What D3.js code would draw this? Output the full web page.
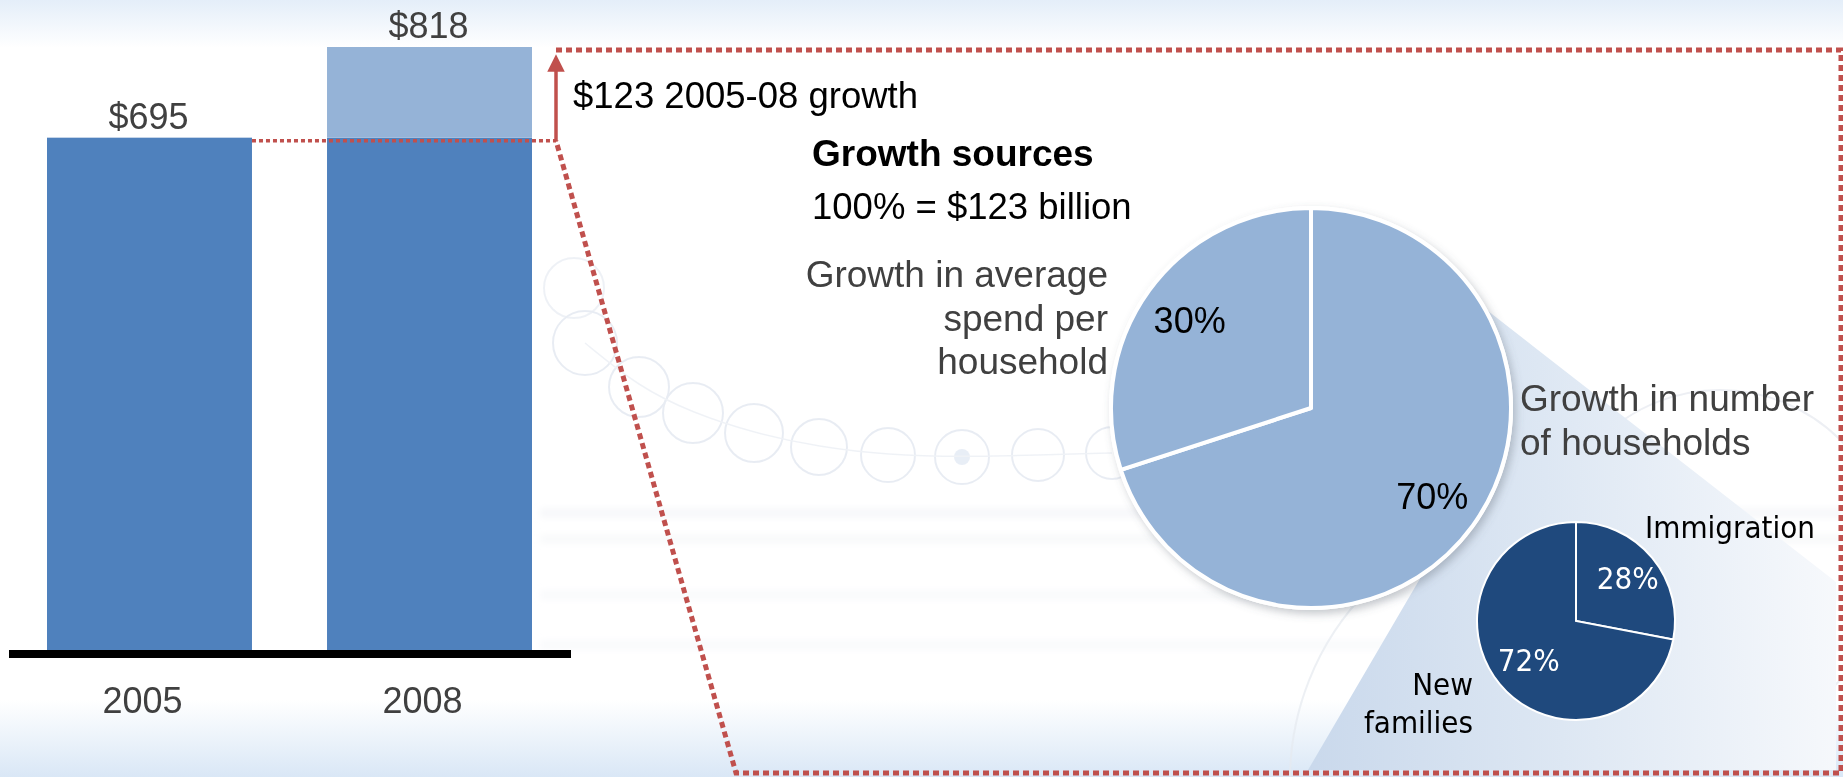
<!DOCTYPE html>
<html>
<head>
<meta charset="utf-8">
<script src="https://cdn.jsdelivr.net/npm/d3@7"></script>
<style>
  html, body { margin: 0; padding: 0; background: #fff; }
  svg { display: block; }
  text { font-family: "Liberation Sans", Arial, sans-serif; }
  .cond { font-family: "DejaVu Sans", sans-serif; }
</style>
</head>
<body>
<svg id="chart" width="1843" height="777"></svg>
<script>
// Spending totals by year ($ billion)
const years = ["2005", "2008"];
const totals = [695, 818];

// Breakdown of the 2005-08 growth
const growthSources = ["Growth in number of households", "Growth in average spend per household"];
const growthShares = [70, 30];

// Breakdown of household-number growth
const householdSources = ["Immigration", "New families"];
const householdShares = [28, 72];

const W = 1843, H = 777;
const svg = d3.select("#chart");
const defs = svg.append("defs");

const RED = "#C0504D";
const DARK = "#4F81BD";
const LIGHT = "#95B3D7";
const NAVY = "#1F497D";
const GREY = "#404040";

// ---------- background ----------
const bgTop = defs.append("linearGradient").attr("id", "bgTop").attr("x1", 0).attr("y1", 0).attr("x2", 0).attr("y2", 1);
bgTop.append("stop").attr("offset", 0).attr("stop-color", "#e4eef9");
bgTop.append("stop").attr("offset", 1).attr("stop-color", "#ffffff");
const bgBot = defs.append("linearGradient").attr("id", "bgBot").attr("x1", 0).attr("y1", 0).attr("x2", 0).attr("y2", 1);
bgBot.append("stop").attr("offset", 0).attr("stop-color", "#ffffff");
bgBot.append("stop").attr("offset", 1).attr("stop-color", "#d9e7f6");

svg.append("rect").attr("width", W).attr("height", H).attr("fill", "#ffffff");
svg.append("rect").attr("width", W).attr("height", 48).attr("fill", "url(#bgTop)");
svg.append("rect").attr("y", 700).attr("width", W).attr("height", 77).attr("fill", "url(#bgBot)");

// soft horizontal streaks
const soft = defs.append("filter").attr("id", "soft").attr("x", "-5%").attr("y", "-100%").attr("width", "110%").attr("height", "300%");
soft.append("feGaussianBlur").attr("stdDeviation", 3);
const streaks = [[540, 1843, 508, 0.35], [540, 1843, 534, 0.28], [540, 1843, 590, 0.25], [540, 1843, 640, 0.25]];
svg.append("g").attr("filter", "url(#soft)").selectAll("rect").data(streaks).join("rect")
  .attr("x", d => d[0]).attr("width", d => d[1] - d[0])
  .attr("y", d => d[2]).attr("height", 10)
  .attr("fill", "#e8ecf2").attr("opacity", d => d[3]);

// faint decorative ring chain
const rings = [[585, 343, 32], [639, 387, 30], [693, 413, 30], [754, 433, 29], [819, 447, 28], [888, 455, 27], [962, 457, 27], [1038, 455, 26], [1112, 453, 26]];
const ringG = svg.append("g").attr("opacity", 0.5);
ringG.append("circle").attr("cx", 574).attr("cy", 288).attr("r", 30)
  .attr("fill", "none").attr("stroke", "#dfe5ee").attr("stroke-width", 2);
ringG.selectAll("circle.ring").data(rings).join("circle")
  .attr("class", "ring")
  .attr("cx", d => d[0]).attr("cy", d => d[1]).attr("r", d => d[2])
  .attr("fill", "none").attr("stroke", "#d3dbe8").attr("stroke-width", 2);
ringG.append("circle").attr("cx", 962).attr("cy", 457).attr("r", 8).attr("fill", "#d3deee");
ringG.append("path")
  .attr("d", d3.line().curve(d3.curveBasis)(rings.map(d => [d[0], d[1]])))
  .attr("fill", "none").attr("stroke", "#e1e6ef").attr("stroke-width", 1.5);

// faint large arcs
const arcG = svg.append("g").attr("fill", "none").attr("stroke", "#e6e9ef").attr("stroke-width", 2).attr("opacity", 0.7);
arcG.append("circle").attr("cx", 1720).attr("cy", 560).attr("r", 170);
arcG.append("circle").attr("cx", 1560).attr("cy", 780).attr("r", 270);

// ---------- bar chart ----------
const baseY = 650;
const x = d3.scaleBand().domain(years).range([47, 532]).paddingInner(0.268).paddingOuter(0);
const y = d3.scaleLinear().domain([0, d3.max(totals)]).range([baseY, 47]);

const barG = svg.append("g");
// base segment (first-year level) for every bar
barG.selectAll("rect.base").data(years).join("rect")
  .attr("class", "base")
  .attr("x", d => x(d)).attr("width", x.bandwidth())
  .attr("y", (d, i) => y(Math.min(totals[i], totals[0])))
  .attr("height", (d, i) => baseY - y(Math.min(totals[i], totals[0])))
  .attr("fill", DARK);
// growth segment above the first-year level
barG.selectAll("rect.growth").data(years.slice(1)).join("rect")
  .attr("class", "growth")
  .attr("x", d => x(d)).attr("width", x.bandwidth())
  .attr("y", (d, i) => y(totals[i + 1]))
  .attr("height", (d, i) => y(totals[0]) - y(totals[i + 1]))
  .attr("fill", LIGHT);

// value labels
barG.selectAll("text.val").data(years).join("text")
  .attr("class", "val")
  .attr("x", d => x(d) + x.bandwidth() / 2 - 1)
  .attr("y", (d, i) => y(totals[i]) - 9)
  .attr("text-anchor", "middle").attr("font-size", 36).attr("fill", GREY)
  .text((d, i) => "$" + totals[i]);

// baseline
svg.append("line").attr("x1", 9).attr("x2", 571).attr("y1", baseY + 4).attr("y2", baseY + 4)
  .attr("stroke", "#000").attr("stroke-width", 8);

// year labels
svg.append("g").selectAll("text").data(years).join("text")
  .attr("x", d => x(d) + x.bandwidth() / 2 - 7)
  .attr("y", 713)
  .attr("text-anchor", "middle").attr("font-size", 36).attr("fill", GREY)
  .text(d => d);

// ---------- growth connector and callout box ----------
const arrowX = 556;
const levelY = y(totals[0]) + 3;
const boxTop = 50, boxBottom = 773, boxRight = 1841, slantBottomX = 736;

svg.append("line")
  .attr("x1", x(years[0]) + x.bandwidth()).attr("x2", arrowX)
  .attr("y1", levelY).attr("y2", levelY)
  .attr("stroke", RED).attr("stroke-width", 3.5).attr("stroke-dasharray", "4 3");

const box = d3.path();
box.moveTo(arrowX, boxTop);
box.lineTo(boxRight, boxTop);
box.lineTo(boxRight, boxBottom);
box.lineTo(slantBottomX, boxBottom);
box.lineTo(arrowX, levelY);

// zoom funnel from the big pie towards the small pie (drawn under the pies)
const bigC = [1311, 408], bigR = 200;
const smallC = [1576, 621], smallR = 99;
const funnelGrad = defs.append("linearGradient").attr("id", "funnel")
  .attr("gradientUnits", "userSpaceOnUse")
  .attr("x1", 1200).attr("y1", 600).attr("x2", 1840).attr("y2", 560);
funnelGrad.append("stop").attr("offset", 0).attr("stop-color", "#c2d3e9");
funnelGrad.append("stop").attr("offset", 0.55).attr("stop-color", "#dde7f3");
funnelGrad.append("stop").attr("offset", 1).attr("stop-color", "#f7f9fc");
const onBig = deg => [bigC[0] + bigR * Math.sin(deg * Math.PI / 180), bigC[1] - bigR * Math.cos(deg * Math.PI / 180)];
const funnelPts = [
  onBig(60),
  [boxRight - 5, 582],
  [boxRight - 5, boxBottom - 3],
  [1308, boxBottom - 3],
  onBig(146),
  bigC
];
svg.append("path").attr("d", d3.line()(funnelPts) + "Z").attr("fill", "url(#funnel)");

svg.append("path").attr("d", box.toString())
  .attr("fill", "none").attr("stroke", RED).attr("stroke-width", 5).attr("stroke-dasharray", "6 4");

// growth arrow
defs.append("marker").attr("id", "head").attr("viewBox", "0 0 10 10")
  .attr("refX", 5).attr("refY", 5).attr("markerWidth", 5).attr("markerHeight", 6)
  .attr("orient", "auto")
  .append("path").attr("d", "M0,0 L10,5 L0,10 Z").attr("fill", RED);
svg.append("line").attr("x1", arrowX).attr("x2", arrowX)
  .attr("y1", levelY + 1).attr("y2", boxTop + 13)
  .attr("stroke", RED).attr("stroke-width", 3.5).attr("marker-end", "url(#head)");

svg.append("text").attr("x", 573).attr("y", 108).attr("font-size", 36.5).attr("fill", "#000")
  .text("$" + (totals[1] - totals[0]) + " 2005-08 growth");

svg.append("text").attr("x", 812).attr("y", 166).attr("font-size", 37).attr("font-weight", "bold").attr("fill", "#000")
  .text("Growth sources");
svg.append("text").attr("x", 812).attr("y", 219).attr("font-size", 36.5).attr("fill", "#000")
  .text("100% = $" + (totals[1] - totals[0]) + " billion");

// ---------- big pie: sources of growth ----------
const shadow = defs.append("filter").attr("id", "shadow").attr("x", "-20%").attr("y", "-20%").attr("width", "140%").attr("height", "140%");
shadow.append("feDropShadow").attr("dx", 3).attr("dy", 4).attr("stdDeviation", 4)
  .attr("flood-color", "#5a6470").attr("flood-opacity", 0.35);

const pie = d3.pie().sort(null).value(d => d.v);
const bigData = pie(growthSources.map((s, i) => ({ name: s, v: growthShares[i] })));
const bigArc = d3.arc().innerRadius(0).outerRadius(bigR);
const bigLabelArc = d3.arc().innerRadius(bigR * 0.75).outerRadius(bigR * 0.75);

const bigG = svg.append("g").attr("transform", `translate(${bigC[0]},${bigC[1]})`);
bigG.append("circle").attr("r", bigR + 2).attr("fill", "#fff").attr("filter", "url(#shadow)");
bigG.selectAll("path").data(bigData).join("path")
  .attr("d", bigArc).attr("fill", LIGHT)
  .attr("stroke", "#fff").attr("stroke-width", 4).attr("stroke-linejoin", "round");
bigG.selectAll("text").data(bigData).join("text")
  .attr("transform", d => { const c = bigLabelArc.centroid(d); return `translate(${c[0]},${c[1] + 13})`; })
  .attr("text-anchor", "middle").attr("font-size", 36).attr("fill", "#000")
  .text(d => d.data.v + "%");

// labels for the big pie
const leftLines = ["Growth in average", "spend per", "household"];
svg.append("g").selectAll("text").data(leftLines).join("text")
  .attr("x", 1108).attr("y", (d, i) => 287 + i * 43.5)
  .attr("text-anchor", "end").attr("font-size", 37).attr("fill", GREY)
  .text(d => d);
const rightLines = ["Growth in number", "of households"];
svg.append("g").selectAll("text").data(rightLines).join("text")
  .attr("x", 1520).attr("y", (d, i) => 411 + i * 43.5)
  .attr("font-size", 37).attr("fill", GREY)
  .text(d => d);

// ---------- small pie: sources of household growth ----------
const SX = 0.9; // horizontal squeeze for the narrow label face
const smallData = pie(householdSources.map((s, i) => ({ name: s, v: householdShares[i] })));
const smallArc = d3.arc().innerRadius(0).outerRadius(smallR);
const smallG = svg.append("g").attr("transform", `translate(${smallC[0]},${smallC[1]})`);
smallG.selectAll("path").data(smallData).join("path")
  .attr("d", smallArc).attr("fill", NAVY)
  .attr("stroke", "#fff").attr("stroke-width", 2);
const smallLabelR = [0.68, 0.62];
smallG.selectAll("text").data(smallData).join("text")
  .attr("class", "cond")
  .attr("transform", (d, i) => {
    const r = smallR * smallLabelR[i];
    const c = d3.arc().innerRadius(r).outerRadius(r).centroid(d);
    return `translate(${c[0]},${c[1] + 11}) scale(${SX},1)`;
  })
  .attr("text-anchor", "middle").attr("font-size", 31).attr("fill", "#fff")
  .text(d => d.data.v + "%");

svg.append("text").attr("class", "cond")
  .attr("transform", `translate(1645,538) scale(${SX},1)`)
  .attr("font-size", 31).attr("fill", "#000").text(householdSources[0]);
svg.append("g").selectAll("text").data(["New", "families"]).join("text")
  .attr("class", "cond")
  .attr("transform", (d, i) => `translate(1473,${695 + i * 38}) scale(${SX},1)`)
  .attr("text-anchor", "end").attr("font-size", 31).attr("fill", "#000")
  .text(d => d);
</script>
</body>
</html>
